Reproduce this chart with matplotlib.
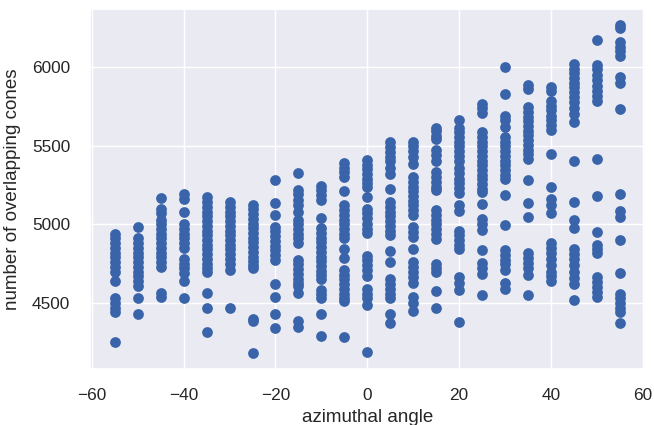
import numpy as np
import matplotlib.pyplot as plt
import seaborn as sns

sns.set_theme()
plt.rcParams['font.family'] = ['Liberation Sans', 'DejaVu Sans']

# azimuthal angle of each run group
angles = [-55, -50, -45, -40, -35, -30, -25, -20, -15, -10, -5, 0,
          5, 10, 15, 20, 25, 30, 35, 40, 45, 50, 55]

# number of overlapping cones measured at each angle
cones = [
    [4940, 4910, 4880, 4850, 4820, 4790, 4760, 4730, 4700, 4640, 4530, 4500, 4470, 4440, 4250],
    [4985, 4910, 4880, 4850, 4820, 4790, 4760, 4730, 4700, 4670, 4640, 4610, 4530, 4430],
    [5165, 5100, 5070, 5030, 5000, 4970, 4940, 4910, 4880, 4850, 4820, 4790, 4760, 4730, 4565, 4540],
    [5190, 5160, 5080, 5000, 4970, 4940, 4910, 4880, 4850, 4780, 4750, 4720, 4690, 4640, 4530],
    [5175, 5140, 5110, 5080, 5050, 5020, 4990, 4960, 4930, 4900, 4870, 4840, 4810, 4780, 4750, 4720,
     4695, 4565, 4465, 4315],
    [5140, 5110, 5080, 5050, 5020, 4990, 4960, 4930, 4900, 4870, 4840, 4810, 4780, 4750, 4710, 4470],
    [5125, 5095, 5065, 5035, 5005, 4975, 4945, 4915, 4885, 4855, 4825, 4795, 4765, 4740, 4720,
     4400, 4385, 4185],
    [5280, 5135, 5060, 4985, 4955, 4925, 4895, 4865, 4835, 4805, 4775, 4620, 4535, 4430, 4340],
    [5325, 5220, 5190, 5155, 5120, 5080, 5030, 5000, 4970, 4940, 4910, 4880, 4775, 4745, 4715, 4685,
     4655, 4625, 4605, 4565, 4385, 4345],
    [5245, 5215, 5185, 5155, 5040, 4975, 4945, 4915, 4885, 4855, 4825, 4795, 4765, 4735, 4705, 4675,
     4655, 4585, 4555, 4530, 4430, 4290],
    [5390, 5360, 5330, 5300, 5210, 5120, 5090, 5060, 5030, 5000, 4970, 4940, 4910, 4840, 4785, 4710,
     4680, 4650, 4620, 4590, 4560, 4530, 4510, 4285],
    [5410, 5380, 5350, 5320, 5290, 5260, 5240, 5175, 5100, 5070, 5040, 5000, 4970, 4945, 4800, 4770,
     4740, 4710, 4670, 4590, 4560, 4530, 4490, 4190],
    [5520, 5490, 5460, 5430, 5400, 5360, 5320, 5225, 5140, 5110, 5080, 5050, 5020, 4990, 4960, 4930,
     4830, 4760, 4650, 4620, 4590, 4560, 4530, 4430, 4375],
    [5525, 5495, 5465, 5430, 5385, 5300, 5270, 5240, 5210, 5180, 5150, 5120, 5090, 5060, 4980, 4950,
     4920, 4840, 4760, 4730, 4700, 4665, 4630, 4535, 4500, 4450],
    [5615, 5590, 5560, 5540, 5470, 5440, 5405, 5335, 5300, 5270, 5240, 5215, 5090, 5060, 5030, 5000,
     4970, 4940, 4905, 4750, 4720, 4700, 4575, 4470],
    [5665, 5615, 5585, 5555, 5525, 5495, 5465, 5435, 5405, 5355, 5325, 5290, 5260, 5230, 5200, 5125,
     5085, 4960, 4930, 4900, 4870, 4840, 4665, 4625, 4585, 4380],
    [5765, 5740, 5710, 5585, 5555, 5525, 5495, 5465, 5435, 5405, 5375, 5345, 5315, 5285, 5255, 5225,
     5205, 5130, 5035, 5000, 4965, 4835, 4755, 4720, 4685, 4550],
    [6000, 5830, 5690, 5660, 5620, 5555, 5525, 5495, 5465, 5435, 5405, 5375, 5345, 5315, 5290, 5185,
     4995, 4835, 4805, 4775, 4745, 4710, 4625, 4590],
    [5885, 5860, 5745, 5715, 5685, 5655, 5625, 5595, 5565, 5535, 5505, 5475, 5445, 5415, 5280, 5135,
     5045, 4815, 4785, 4755, 4720, 4680, 4550],
    [5870, 5850, 5785, 5755, 5725, 5690, 5660, 5630, 5600, 5450, 5235, 5160, 5120, 5070, 4880, 4850,
     4820, 4780, 4740, 4700, 4670, 4640],
    [6020, 5990, 5960, 5930, 5900, 5870, 5840, 5810, 5780, 5740, 5700, 5650, 5405, 5140, 5025, 4975,
     4840, 4810, 4780, 4740, 4700, 4660, 4620, 4520],
    [6170, 6015, 5985, 5950, 5920, 5880, 5845, 5815, 5785, 5415, 5180, 4950, 4870, 4840, 4815, 4665,
     4635, 4600, 4570, 4540],
    [6265, 6245, 6160, 6130, 6100, 6070, 5935, 5900, 5730, 5190, 5085, 5045, 4900, 4690, 4560, 4530,
     4500, 4470, 4440, 4370],
]

x = np.concatenate([np.full(len(c), a) for a, c in zip(angles, cones)])
y = np.concatenate([np.array(c) for c in cones])

fig = plt.figure(figsize=(6.54, 4.25), dpi=100)
ax = fig.add_axes([0.137, 0.132, 0.849, 0.847])
ax.scatter(x, y, s=60, color='#3a64aa', linewidths=0)
ax.set_xlabel('azimuthal angle', fontsize=13.5, labelpad=4)
ax.set_ylabel('number of overlapping cones', fontsize=13.5, labelpad=8)
ax.tick_params(labelsize=12.4, pad=8)
ax.set_xticks([-60, -40, -20, 0, 20, 40, 60])
ax.set_yticks([4500, 5000, 5500, 6000])
fig.savefig('out.png', dpi=100)
